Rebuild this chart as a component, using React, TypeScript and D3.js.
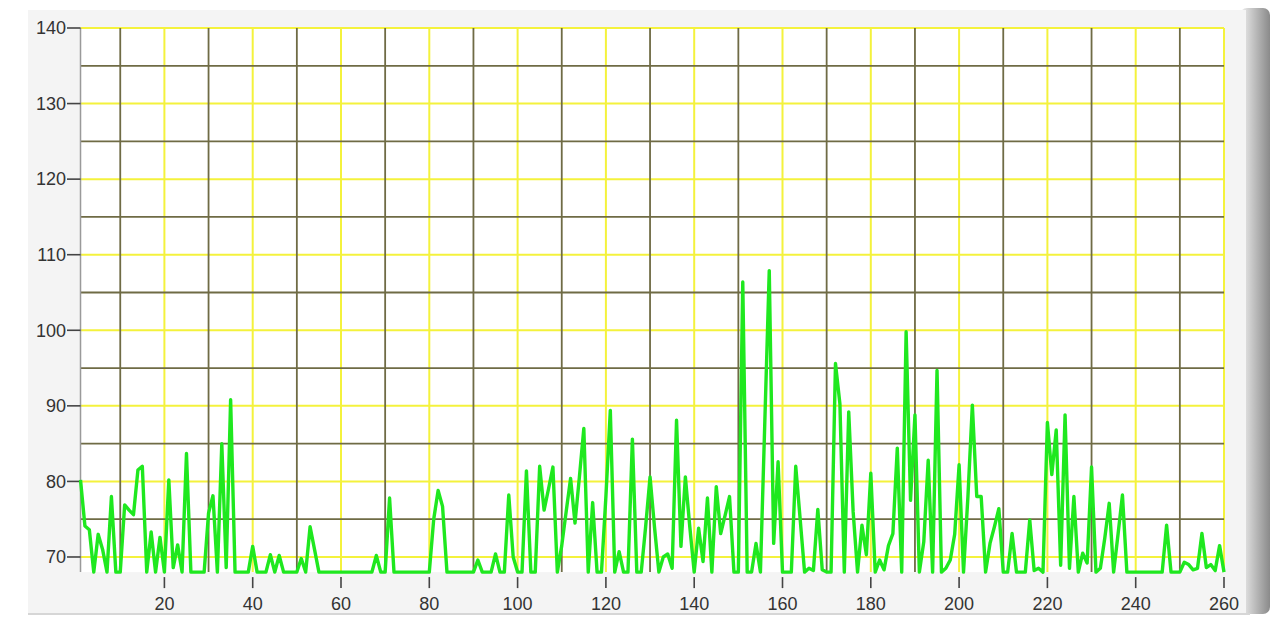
import { useEffect, useRef } from 'react';
import * as d3 from 'd3';

// readings, one per sample (samples 1..260)
const readings: number[] = [
  80.2, 74.1, 73.6, 68, 73, 71, 68, 78, 68, 68,
  76.9, 76.2, 75.6, 81.5, 82, 68, 73.3, 68, 72.6, 68,
  80.2, 68.6, 71.6, 68, 83.7, 68, 68, 68, 68, 75.8,
  78.1, 68, 85, 68.6, 90.8, 68, 68, 68, 68, 71.4,
  68, 68, 68, 70.3, 68, 70.2, 68, 68, 68, 68,
  69.8, 68, 74, 71, 68, 68, 68, 68, 68, 68,
  68, 68, 68, 68, 68, 68, 68, 70.2, 68, 68,
  77.8, 68, 68, 68, 68, 68, 68, 68, 68, 68,
  75, 78.8, 76.7, 68, 68, 68, 68, 68, 68, 68,
  69.6, 68, 68, 68, 70.4, 68, 68, 78.2, 70, 68,
  68, 81.4, 68, 68, 82, 76.2, 79, 81.9, 68, 71.5,
  76, 80.4, 74.5, 80.6, 87, 68, 77.2, 68, 68, 78,
  89.4, 68, 70.7, 68, 68, 85.6, 68, 68, 74, 80.6,
  74, 68, 70, 70.4, 68.5, 88.1, 71.4, 80.6, 74, 68,
  73.8, 69.4, 77.8, 68, 79.3, 73.1, 75.5, 78, 68, 68,
  106.4, 68, 68, 71.8, 68, 88, 107.9, 71.8, 82.6, 68,
  68, 68, 82, 75, 68, 68.5, 68.2, 76.3, 68.3, 68,
  68, 95.6, 90.3, 68, 89.2, 76, 68, 74.2, 70.3, 81.1,
  68, 69.6, 68.3, 71.5, 73.1, 84.4, 68, 99.8, 77.5, 88.8,
  68, 72, 82.8, 68, 94.7, 68, 68.5, 69.6, 73, 82.2,
  68, 78, 90.1, 78, 78, 68, 71.8, 74, 76.4, 68,
  68, 73.1, 68, 68, 68, 74.9, 68.2, 68.5, 68, 87.8,
  80.9, 86.8, 68.9, 88.8, 68.5, 78, 68, 70.5, 69.2, 81.9,
  68, 68.5, 72.5, 77.1, 68, 73, 78.2, 68, 68, 68,
  68, 68, 68, 68, 68, 68, 74.2, 68, 68, 68,
  69.3, 69, 68.3, 68.5, 73.1, 68.6, 69, 68.2, 71.5, 68,
];

const xTicks = [20, 40, 60, 80, 100, 120, 140, 160, 180, 200, 220, 240, 260];
const xMinor = [10, 30, 50, 70, 90, 110, 130, 150, 170, 190, 210, 230, 250];
const yTicks = [70, 80, 90, 100, 110, 120, 130, 140];
const yMinor = [75, 85, 95, 105, 115, 125, 135];

const W = 1278;
const H = 619;
const FONT = '"Liberation Sans", Arial, sans-serif';

export default function App() {
  const ref = useRef<SVGSVGElement>(null);

  useEffect(() => {
    if (!ref.current) return;

    const x = d3.scaleLinear().domain([0, 260]).range([76.1, 1224]);
    const y = d3.scaleLinear().domain([68, 140]).range([572.1, 28]);
    const left = x(1);
    const right = x(260);
    const top = y(140);
    const bottom = y(68);

    const svg = d3.select(ref.current);
    svg.selectAll('*').remove();

    const defs = svg.append('defs');
    const shade = defs.append('linearGradient').attr('id', 'rshade').attr('x1', 0).attr('x2', 1);
    shade.append('stop').attr('offset', '0%').attr('stop-color', '#f0f0f0');
    shade.append('stop').attr('offset', '70%').attr('stop-color', '#a8a8a8');
    shade.append('stop').attr('offset', '100%').attr('stop-color', '#8a8a8a');

    // panel frame
    svg.append('rect').attr('x', 0).attr('y', 0).attr('width', W).attr('height', H).attr('fill', '#ffffff');
    svg.append('rect')
      .attr('x', 1240).attr('y', 8).attr('width', 30).attr('height', 606)
      .attr('rx', 7).attr('fill', 'url(#rshade)');
    svg.append('rect')
      .attr('x', 28).attr('y', 10).attr('width', 1218).attr('height', 604)
      .attr('fill', '#f4f4f4');
    svg.append('line')
      .attr('x1', 28).attr('x2', 1250).attr('y1', 614).attr('y2', 614)
      .attr('stroke', '#d6d6d6').attr('stroke-width', 2);

    // plot area
    svg.append('rect')
      .attr('x', left).attr('y', top)
      .attr('width', right - left).attr('height', bottom - top)
      .attr('fill', '#ffffff');

    const g = svg.append('g');

    // yellow grid on the labelled values
    g.selectAll('line.ymaj').data(yTicks).enter().append('line')
      .attr('x1', left).attr('x2', right)
      .attr('y1', d => y(d)).attr('y2', d => y(d))
      .attr('stroke', '#f4f23c').attr('stroke-width', 2);
    g.selectAll('line.xmaj').data(xTicks).enter().append('line')
      .attr('x1', d => x(d)).attr('x2', d => x(d))
      .attr('y1', top).attr('y2', bottom)
      .attr('stroke', '#f4f23c').attr('stroke-width', 2);

    // dark olive grid in between
    g.selectAll('line.ymin').data(yMinor).enter().append('line')
      .attr('x1', left).attr('x2', right)
      .attr('y1', d => y(d)).attr('y2', d => y(d))
      .attr('stroke', '#6f6b45').attr('stroke-width', 1.8);
    g.selectAll('line.xmin').data(xMinor).enter().append('line')
      .attr('x1', d => x(d)).attr('x2', d => x(d))
      .attr('y1', top).attr('y2', bottom)
      .attr('stroke', '#6f6b45').attr('stroke-width', 1.8);

    // left axis line
    g.append('line')
      .attr('x1', left).attr('x2', left).attr('y1', top).attr('y2', bottom)
      .attr('stroke', '#9a9a9a').attr('stroke-width', 1.5);

    // y ticks and labels
    const yt = g.selectAll('g.yt').data(yTicks).enter().append('g')
      .attr('transform', d => `translate(0,${y(d)})`);
    yt.append('line').attr('x1', 67).attr('x2', left).attr('stroke', '#444').attr('stroke-width', 1.6);
    yt.append('text')
      .attr('x', 66).attr('dy', '0.35em').attr('text-anchor', 'end')
      .attr('font-family', FONT).attr('font-size', 18)
      .attr('fill', '#333')
      .text(d => d);

    // x ticks and labels
    const xt = g.selectAll('g.xt').data(xTicks).enter().append('g')
      .attr('transform', d => `translate(${x(d)},0)`);
    xt.append('line').attr('y1', bottom + 5).attr('y2', bottom + 16).attr('stroke', '#444').attr('stroke-width', 1.6);
    xt.append('text')
      .attr('y', 610).attr('text-anchor', 'middle')
      .attr('font-family', FONT).attr('font-size', 18)
      .attr('fill', '#333')
      .text(d => d);

    // the trace
    const line = d3.line<number>()
      .x((_, i) => x(i + 1))
      .y(d => y(d));
    g.append('path')
      .attr('d', line(readings)!)
      .attr('fill', 'none')
      .attr('stroke', '#1fe81f')
      .attr('stroke-width', 3.4)
      .attr('stroke-linejoin', 'round');
  }, []);

  return (
    <div style={{ position: 'absolute', left: 0, top: 0, width: W, height: H }}>
      <svg ref={ref} width={W} height={H} style={{ display: 'block' }} />
    </div>
  );
}
